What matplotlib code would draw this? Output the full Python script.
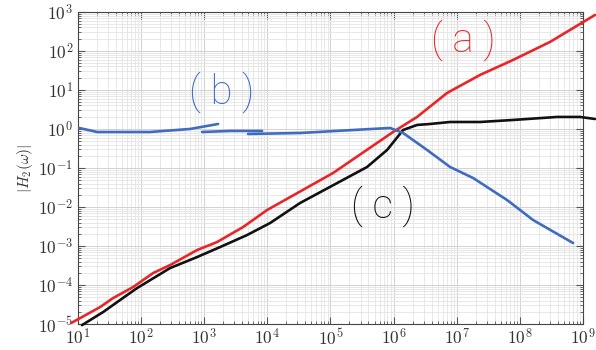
import numpy as np
import matplotlib
matplotlib.use("Agg")
import matplotlib.pyplot as plt
from matplotlib import ticker

# |H2(w)| traces, read as log10(omega), log10(|H2|)
log_w_a = [0.889, 1.349, 1.555, 1.872, 2.189, 2.458, 2.886, 3.203, 3.615, 3.995,
           5.041, 5.992, 6.372, 6.848, 7.371, 7.894, 8.480, 9.193]
log_h_a = [-4.974, -4.564, -4.333, -4.051, -3.692, -3.487, -3.103, -2.897, -2.513, -2.077,
           -1.128, -0.077, 0.308, 0.923, 1.385, 1.769, 2.231, 2.923]

log_w_c = [1.063, 1.396, 1.777, 1.935, 2.458, 2.886, 3.250, 3.678, 4.043, 4.518,
           5.580, 5.897, 6.151, 6.372, 6.578, 6.895, 7.371, 7.894, 8.591, 8.956, 9.193]
log_h_c = [-5.026, -4.692, -4.256, -4.077, -3.564, -3.282, -3.026, -2.718, -2.410, -1.897,
           -0.974, -0.538, -0.026, 0.103, 0.128, 0.179, 0.179, 0.231, 0.308, 0.308, 0.256]

# (b) was drawn in three overlapping strokes
log_w_b1 = [1.016, 1.301, 1.666, 2.141, 2.775, 3.219]
log_h_b1 = [0.026, -0.077, -0.077, -0.077, 0.0, 0.128]
log_w_b2 = [2.965, 3.409, 3.916]
log_h_b2 = [-0.077, -0.051, -0.051]
log_w_b3 = [3.694, 4.518, 5.358, 5.945, 6.151, 6.531, 6.895, 7.260, 7.799, 8.211, 8.845]
log_h_b3 = [-0.128, -0.103, -0.026, 0.026, -0.103, -0.538, -0.974, -1.256, -1.821, -2.333, -2.923]

labels = ["( a )", "( b )", "( c )"]
label_w = [7.10, 3.28, 5.83]
label_h = [2.28, 0.95, -1.97]

RED, BLUE, BLACK = "#e8262a", "#3f6cc2", "#111111"

plt.rcParams["mathtext.fontset"] = "cm"

fig = plt.figure(figsize=(5.96, 3.5), dpi=100)
ax = fig.add_axes([0.131, 0.074, 0.847, 0.892])
ax.set_xscale("log")
ax.set_yscale("log")
ax.set_xlim(1e1, 1e9)
ax.set_ylim(1e-5, 1e3)

ax.grid(True, which="minor", color="#e4e4e4", lw=0.6)
ax.grid(True, which="major", color="#d2d2d2", lw=0.7)
ax.set_axisbelow(True)

pow10 = ticker.FuncFormatter(lambda v, _: rf"$10^{{{int(round(np.log10(v)))}}}$")
for axis in (ax.xaxis, ax.yaxis):
    axis.set_major_locator(ticker.LogLocator(base=10, numticks=20))
    axis.set_minor_locator(ticker.LogLocator(base=10, subs=np.arange(2, 10), numticks=20))
    axis.set_major_formatter(pow10)
    axis.set_minor_formatter(ticker.NullFormatter())
ax.tick_params(which="both", direction="in", top=True, right=True, labelsize=12.5,
               color="#555555", labelcolor="#333333")
ax.tick_params(which="major", length=5)
ax.tick_params(which="minor", length=2.5)
ax.tick_params(axis="x", pad=3)
for s in ax.spines.values():
    s.set_color("#444444")
    s.set_linewidth(0.8)

ax.set_ylabel(r"$|H_2(\omega)|$", fontsize=11, labelpad=2, color="#333333")

def trace(lw_, lh_, color):
    ax.plot(10.0 ** np.array(lw_), 10.0 ** np.array(lh_), color=color, lw=1.9,
            solid_capstyle="round", clip_on=False, zorder=3)

trace(log_w_a, log_h_a, RED)
trace(log_w_c, log_h_c, BLACK)
trace(log_w_b1, log_h_b1, BLUE)
trace(log_w_b2, log_h_b2, BLUE)
trace(log_w_b3, log_h_b3, BLUE)

for txt, lw_, lh_, c in zip(labels, label_w, label_h, [RED, BLUE, BLACK]):
    ax.text(10 ** lw_, 10 ** lh_, txt, color=c, fontsize=29, family=["Roboto", "DejaVu Sans"],
            fontweight="light", ha="center", va="center", clip_on=False, zorder=4)

fig.savefig("out.png", dpi=100)
